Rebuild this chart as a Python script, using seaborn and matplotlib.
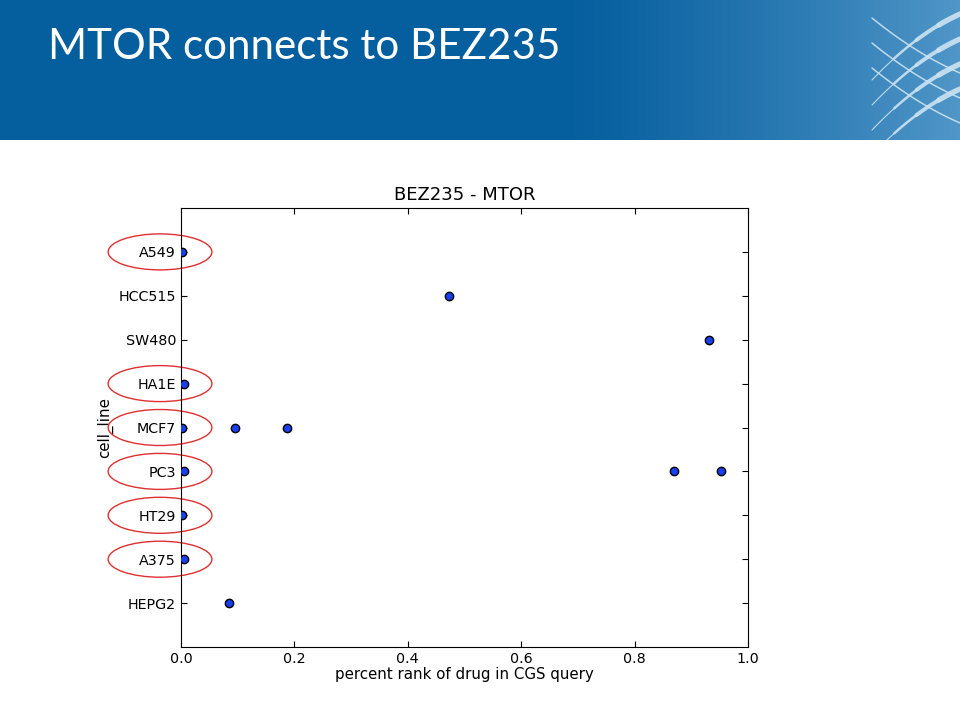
"""
Slide: MTOR connects to BEZ235 - percent rank per cell line.
"""
import numpy as np
import pandas as pd
import matplotlib
matplotlib.use("Agg")
import matplotlib.pyplot as plt
from matplotlib.patches import Ellipse
import matplotlib.transforms as mtransforms
import seaborn as sns

# ----------------------------------------------------------------------
# Data
# ----------------------------------------------------------------------
cell_order = ["A549", "HCC515", "SW480", "HA1E", "MCF7", "PC3", "HT29", "A375", "HEPG2"]
point_cells = ["A549", "HCC515", "SW480", "HA1E",
               "MCF7", "MCF7", "MCF7",
               "PC3", "PC3", "PC3",
               "HT29", "A375", "HEPG2"]
point_ranks = [0.001, 0.473, 0.932, 0.005,
               0.001, 0.096, 0.187,
               0.006, 0.869, 0.952,
               0.001, 0.006, 0.085]
circled = ["A549", "HA1E", "MCF7", "PC3", "HT29", "A375"]

slide_title = "MTOR connects to BEZ235"
plot_title = "BEZ235 - MTOR"
xlabel = "percent rank of drug in CGS query"
ylabel = "cell_line"

df = pd.DataFrame({"cell_line": point_cells, "rank": point_ranks})

# ----------------------------------------------------------------------
# Style
# ----------------------------------------------------------------------
sns.set_style("white", rc={
    "xtick.direction": "in", "ytick.direction": "in",
    "xtick.bottom": True, "xtick.top": True,
    "ytick.left": True, "ytick.right": True,
    "axes.edgecolor": "black", "axes.linewidth": 1.0,
    "text.color": "black", "axes.labelcolor": "black",
})
plt.rcParams["font.family"] = ["DejaVu Sans"]

fig = plt.figure(figsize=(9.6, 7.2), dpi=100)

# --- header banner with gradient ---
hdr = fig.add_axes([0, 1 - 140 / 720, 1, 140 / 720])
hdr.set_xlim(0, 960)
hdr.set_ylim(140, 0)
hdr.axis("off")
left_c = np.array([5, 94, 158]) / 255
right_c = np.array([80, 150, 200]) / 255
xs = np.linspace(0, 960, 480)
t = np.clip((xs - 560) / 400, 0, 1) ** 1.2
grad = left_c[None, :] * (1 - t[:, None]) + right_c[None, :] * t[:, None]
hdr.imshow(grad[None, :, :], extent=[0, 960, 140, 0], aspect="auto")

# decorative crossing swooshes, top right
arc_col = (0.80, 0.89, 0.95)
u = np.linspace(0, 1, 80)
for k in range(3):
    # falling lines
    hdr.plot(872 + 88 * u, 18 + 25 * k + 55 * (1.3 * u - 0.3 * u ** 2),
             color=arc_col, lw=1.1, alpha=0.9, solid_capstyle="round")
for k in range(4):
    # rising lines, thicker towards the right
    yy = 80 + 25 * k - 66 * (1.4 * u - 0.4 * u ** 2)
    for seg in range(4):
        sl = slice(seg * 20, seg * 20 + 21)
        hdr.plot(872 + 88 * u[sl], yy[sl], color=arc_col,
                 lw=0.8 + 1.0 * seg, alpha=0.9, solid_capstyle="round")

fig.text(48 / 960, 1 - 47 / 720, slide_title, color="white",
         fontsize=30.3, family="Lato", va="center", ha="left")

# --- main axes ---
ax = fig.add_axes([181 / 960, 1 - 647 / 720, 567 / 960, 439 / 720])
sns.stripplot(data=df, x="rank", y="cell_line", order=cell_order,
              jitter=False, color="#1a3ff0", edgecolor="black",
              linewidth=1, size=6, ax=ax)
ax.set_xlim(0, 1)
ax.set_ylim(len(cell_order), -1)
ax.set_xticks([0.0, 0.2, 0.4, 0.6, 0.8, 1.0])
ax.tick_params(labelsize=10.3, length=4, width=0.8, colors="black")
ax.set_title(plot_title, fontsize=13, pad=6)
ax.set_xlabel(xlabel, fontsize=10.8, labelpad=1)
ax.set_ylabel(ylabel, fontsize=10.8, labelpad=4)
for sp in ax.spines.values():
    sp.set_visible(True)

# red ellipses around highlighted labels
trans = mtransforms.blended_transform_factory(ax.transAxes, ax.transData)
for name in circled:
    yi = cell_order.index(name)
    ax.add_patch(Ellipse((-0.037, yi), 0.183, 0.82, transform=trans,
                         fill=False, edgecolor="#e03030", lw=1.0, clip_on=False))

fig.savefig("out.png", dpi=100)
